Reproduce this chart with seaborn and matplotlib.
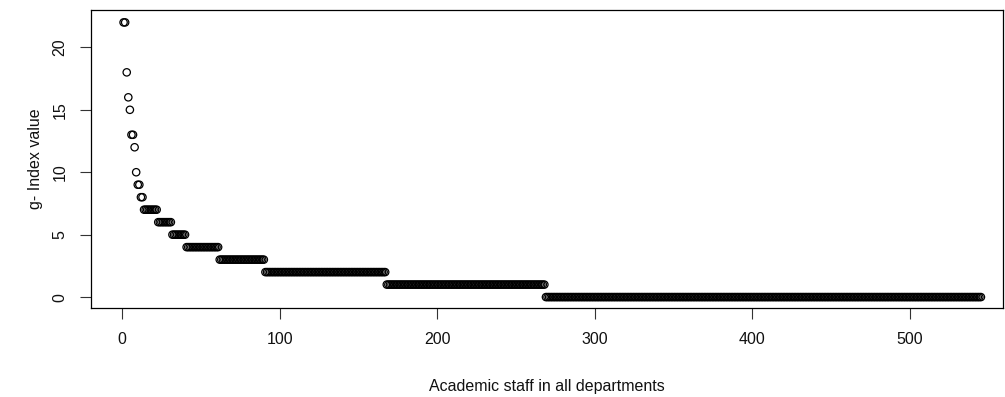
import numpy as np
import pandas as pd
import matplotlib as mpl
import matplotlib.pyplot as plt
import seaborn as sns

# g-index values sorted in decreasing order, stored as runs (value, how many staff)
g_values = [22, 18, 16, 15, 13, 12, 10, 9, 8, 7, 6, 5, 4, 3, 2, 1, 0]
g_counts = [2, 1, 1, 1, 2, 1, 1, 2, 2, 9, 9, 9, 21, 29, 77, 101, 277]

x_ticks = [0, 100, 200, 300, 400, 500]
y_ticks = [0, 5, 10, 15, 20]

g = np.repeat(g_values, g_counts)
df = pd.DataFrame({'staff': np.arange(1, len(g) + 1), 'g_index': g})

sns.set_style('white')
mpl.rcParams['font.family'] = ['Liberation Sans', 'DejaVu Sans']
mpl.rcParams['text.color'] = '#111111'
mpl.rcParams['axes.labelcolor'] = '#111111'
mpl.rcParams['xtick.color'] = '#111111'
mpl.rcParams['ytick.color'] = '#111111'

fig = plt.figure(figsize=(10.05, 3.97), dpi=100)
ax = fig.add_axes([0.0905, 0.224, 0.9075, 0.751])

sns.scatterplot(data=df, x='staff', y='g_index', ax=ax, marker='o', s=28,
                facecolor='none', edgecolor='black', linewidth=0.9)

ax.set_xlim(-19.7, 559)
ax.set_ylim(-0.88, 23.0)
ax.set_xticks(x_ticks)
ax.set_yticks(y_ticks)

ax.set_xlabel('Academic staff in all departments', fontsize=11.5, labelpad=23)
ax.set_ylabel('g- Index value', fontsize=11.5, labelpad=7)
ax.tick_params(axis='both', direction='out', length=8, width=0.8, color='#333333',
               labelsize=11.5, bottom=True, left=True)
ax.tick_params(axis='x', pad=9)
ax.tick_params(axis='y', pad=9, labelrotation=90)
for lab in ax.get_yticklabels():
    lab.set_va('center')

for s in ax.spines.values():
    s.set_visible(True)
    s.set_color('black')
    s.set_linewidth(0.9)

fig.savefig('out.png', dpi=100)
